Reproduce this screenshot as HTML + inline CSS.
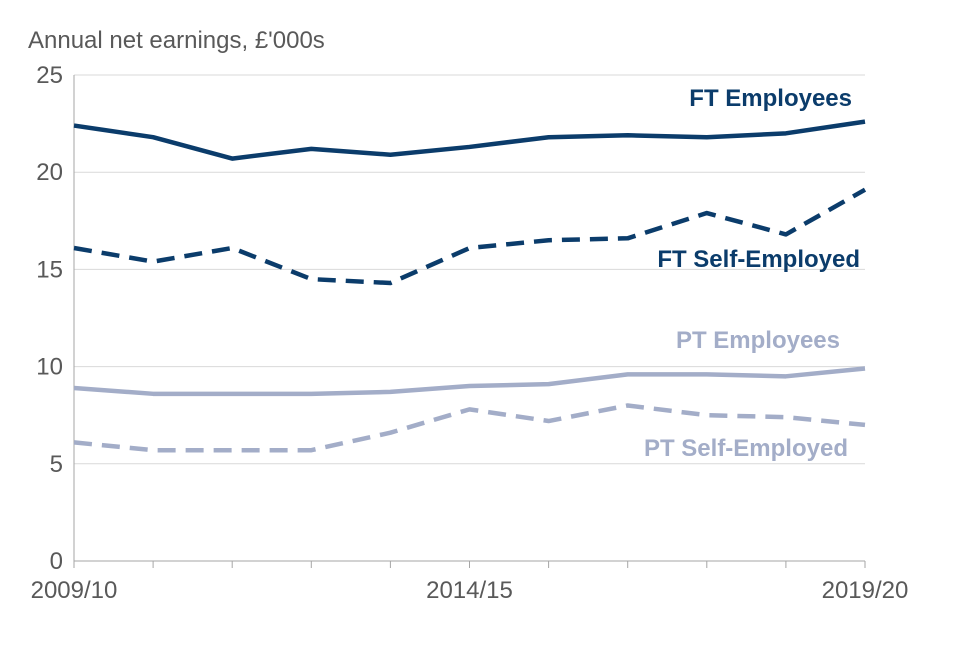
<!DOCTYPE html>
<html><head><meta charset="utf-8"><style>
body{margin:0;background:#fff;}
svg text{font-family:"Liberation Sans",Arial,sans-serif;}
</style></head><body>
<svg id="chart" width="960" height="640">
<text x="28" y="48" font-size="24" fill="#595959">Annual net earnings, £'000s</text>
<g id="grid"></g><g id="axes"></g><g id="series"></g>
<text x="852" y="106" font-size="24" font-weight="bold" fill="#0b3c6b" text-anchor="end">FT Employees</text>
<text x="860" y="267" font-size="24" font-weight="bold" fill="#0b3c6b" text-anchor="end">FT Self-Employed</text>
<text x="840" y="348" font-size="24" font-weight="bold" fill="#a3adc8" text-anchor="end">PT Employees</text>
<text x="848" y="456" font-size="24" font-weight="bold" fill="#a3adc8" text-anchor="end">PT Self-Employed</text>
</svg>
<script>
const categories=["2009/10","2010/11","2011/12","2012/13","2013/14","2014/15","2015/16","2016/17","2017/18","2018/19","2019/20"];
const ftEmployees=[22.4,21.8,20.7,21.2,20.9,21.3,21.8,21.9,21.8,22.0,22.6];
const ftSelfEmployed=[16.1,15.4,16.1,14.5,14.3,16.1,16.5,16.6,17.9,16.8,19.1];
const ptEmployees=[8.9,8.6,8.6,8.6,8.7,9.0,9.1,9.6,9.6,9.5,9.9];
const ptSelfEmployed=[6.1,5.7,5.7,5.7,6.6,7.8,7.2,8.0,7.5,7.4,7.0];
const yTicks=[0,5,10,15,20,25];
const xTickLabels=["2009/10","2014/15","2019/20"];
const NS="http://www.w3.org/2000/svg";
const x0=74,x1=865,y0=561,y1=75;
const xs=i=>x0+(x1-x0)*i/(categories.length-1);
const ys=v=>y0-(y0-y1)*v/25;
function mk(t,a,p){const e=document.createElementNS(NS,t);for(const k in a)e.setAttribute(k,a[k]);p.appendChild(e);return e;}
const grid=document.getElementById('grid'),axes=document.getElementById('axes'),ser=document.getElementById('series');
yTicks.forEach(v=>{
  if(v>0){const l=mk('line',{x1:x0,x2:x1,y1:ys(v),y2:ys(v),stroke:'#d9d9d9','stroke-width':1},grid);
  
  }
  const t=mk('text',{x:x0-11,y:ys(v)+8,'font-size':24,fill:'#595959','text-anchor':'end'},axes);t.textContent=v;
  
  
});
const ya=mk('line',{x1:x0,x2:x0,y1:y1,y2:y0,stroke:'#a6a6a6','stroke-width':1},axes);


const xa=mk('line',{x1:x0,x2:x1,y1:y0,y2:y0,stroke:'#a6a6a6','stroke-width':1},axes);


categories.forEach((c,i)=>{
  const tk=mk('line',{x1:xs(i),x2:xs(i),y1:y0,y2:y0+7,stroke:'#a6a6a6','stroke-width':1},axes);
  
  
  if(xTickLabels.includes(c)){
    const t=mk('text',{x:xs(i),y:y0+37,'font-size':24,fill:'#595959','text-anchor':'middle'},axes);t.textContent=c;
    
    
  }
});
function line(data,color,dash,name){
  const d=data.map((v,i)=>(i?'L':'M')+xs(i)+','+ys(v)).join(' ');
  const p=mk('path',{d:d,fill:'none',stroke:color,'stroke-width':4.5,'stroke-linejoin':'round'},ser);
  if(dash)p.setAttribute('stroke-dasharray','18,10');
  
  
}
line(ptSelfEmployed,'#a3adc8',true,'line-pt-self-employed');
line(ptEmployees,'#a3adc8',false,'line-pt-employees');
line(ftSelfEmployed,'#0b3c6b',true,'line-ft-self-employed');
line(ftEmployees,'#0b3c6b',false,'line-ft-employees');
</script>
</body></html>
